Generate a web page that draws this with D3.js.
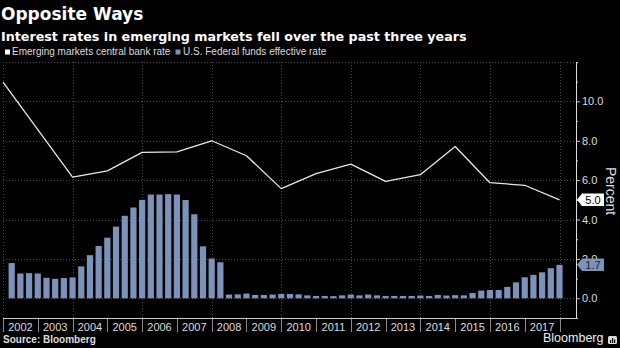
<!DOCTYPE html>
<html>
<head>
<meta charset="utf-8">
<script src="https://cdn.jsdelivr.net/npm/d3@7"></script>
<style>
  html, body { margin: 0; padding: 0; background: #000; }
  svg { display: block; }
</style>
</head>
<body>
<svg id="chart" width="620" height="348"></svg>
<script>
// ---------------- DATA ----------------
const titleText = "Opposite Ways";
const subtitleText = "Interest rates in emerging markets fell over the past three years";
const seriesNames = ["Emerging markets central bank rate", "U.S. Federal funds effective rate"];

// Emerging markets central bank rate (points at start of year)
const emDates = [2002, 2004, 2005, 2006, 2007, 2008, 2009, 2010, 2011, 2012, 2013, 2014, 2015, 2016, 2017, 2018];
const emValues = [10.98, 6.15, 6.47, 7.41, 7.44, 8.0, 7.24, 5.57, 6.33, 6.81, 5.94, 6.28, 7.71, 5.87, 5.74, 5.0];

// U.S. Federal funds effective rate, quarterly
const fedQuarters = [];
for (let yr = 2002; yr <= 2017; yr++) for (let q = 1; q <= 4; q++) fedQuarters.push(yr + " Q" + q);
const fedValues = [
  1.79, 1.26, 1.28, 1.26,
  1.04, 0.99, 1.03, 1.06,
  1.62, 2.19, 2.66, 3.08,
  3.64, 4.19, 4.61, 5.00,
  5.27, 5.27, 5.29, 5.27,
  4.99, 4.27, 2.64, 2.02,
  1.83, 0.19, 0.20, 0.24,
  0.17, 0.17, 0.19, 0.22,
  0.22, 0.20, 0.15, 0.12,
  0.12, 0.11, 0.15, 0.19,
  0.15, 0.19, 0.15, 0.12,
  0.12, 0.12, 0.12, 0.14,
  0.12, 0.17, 0.14, 0.16,
  0.15, 0.27, 0.39, 0.42,
  0.42, 0.58, 0.81, 1.07,
  1.19, 1.32, 1.53, 1.70
];

const yearLabels = ["2002","2003","2004","2005","2006","2007","2008","2009","2010","2011","2012","2013","2014","2015","2016","2017"];
const yTickValues = [0, 2, 4, 6, 8, 10];
const yMinorTicks = [-1, 1, 3, 5, 7, 9, 11, 12];
const gridYears = [2002, 2004, 2006, 2008, 2010, 2012, 2014, 2016, 2018];
const gridValues = [0, 2, 4, 6, 8, 10, 12];
const sourceText = "Source: Bloomberg";
const axisTitle = "Percent";

// ---------------- LAYOUT ----------------
const svg = d3.select("#chart");
const plotLeft = 3, plotRight = 576, plotTop = 62, plotBottom = 318;
const BLUE = "#7b93ba";
const FONT = "'Liberation Sans', Arial, sans-serif";

const x = d3.scaleLinear().domain([2002, 2018]).range([plotLeft, 559.5]);
const y = d3.scaleLinear().domain([-1, 12]).range([plotBottom, plotTop]);

svg.append("rect").attr("width", 620).attr("height", 348).attr("fill", "#000");

// Title & subtitle
svg.append("text").attr("x", 1).attr("y", 20)
  .attr("fill", "#fff").attr("font-family", "'DejaVu Sans', sans-serif")
  .attr("font-weight", "bold").attr("font-size", 17).text(titleText);
svg.append("text").attr("x", 1).attr("y", 40.5)
  .attr("fill", "#fff").attr("font-family", "'DejaVu Sans', sans-serif")
  .attr("font-weight", "bold").attr("font-size", 12.7).text(subtitleText);

// Legend
const legend = svg.append("g").attr("font-family", FONT).attr("font-size", 10).attr("fill", "#ddd");
legend.append("rect").attr("x", 5).attr("y", 49.5).attr("width", 5).attr("height", 5).attr("fill", "#fff");
legend.append("text").attr("x", 12).attr("y", 55).text(seriesNames[0]);
legend.append("rect").attr("x", 175.5).attr("y", 49.5).attr("width", 5).attr("height", 5).attr("fill", BLUE);
legend.append("text").attr("x", 183).attr("y", 55).text(seriesNames[1]);

// Gridlines
const grid = svg.append("g").attr("stroke", "#4a4a4a").attr("stroke-width", 1).attr("stroke-dasharray", "1,2");
grid.selectAll("line.gy").data(gridValues).join("line")
  .attr("x1", plotLeft).attr("x2", plotRight)
  .attr("y1", d => Math.round(y(d)) + 0.5).attr("y2", d => Math.round(y(d)) + 0.5);
grid.selectAll("line.gx").data(gridYears).join("line")
  .attr("x1", d => Math.round(x(d)) + 0.5).attr("x2", d => Math.round(x(d)) + 0.5)
  .attr("y1", plotTop).attr("y2", plotBottom);

// Bars
const barW = 6.2;
const qPos = s => { const [yr, q] = s.split(" Q"); return +yr + (+q) / 4; };
svg.append("g").selectAll("rect").data(fedValues).join("rect")
  .attr("x", (d, i) => x(qPos(fedQuarters[i])) - barW / 2)
  .attr("width", barW)
  .attr("y", d => y(d))
  .attr("height", d => y(0) - y(d))
  .attr("fill", BLUE);

// Line
const line = d3.line().x((d, i) => x(emDates[i])).y(d => y(d));
svg.append("path").datum(emValues).attr("d", line)
  .attr("fill", "none").attr("stroke", "#e8e8e8").attr("stroke-width", 1.3)
  .attr("stroke-linejoin", "round");

// Right axis
const yAxis = d3.axisRight(y).tickValues(yTickValues).tickSize(4).tickPadding(2)
  .tickFormat(d3.format(".1f"));
const ax = svg.append("g").attr("transform", `translate(${plotRight},0)`).call(yAxis);
ax.select(".domain").remove();
ax.selectAll("line").attr("stroke", "#ccc");
ax.selectAll("text").attr("fill", "#ddd").attr("font-family", FONT).attr("font-size", 11);
const axMinor = d3.axisRight(y).tickValues(yMinorTicks).tickSize(2).tickFormat("");
const axm = svg.append("g").attr("transform", `translate(${plotRight},0)`).call(axMinor);
axm.select(".domain").remove();
axm.selectAll("line").attr("stroke", "#ccc");
svg.append("line").attr("x1", plotRight + 0.5).attr("x2", plotRight + 0.5)
  .attr("y1", plotTop).attr("y2", plotBottom).attr("stroke", "#ddd");

// Bottom axis
svg.append("line").attr("x1", plotLeft).attr("x2", plotRight + 1)
  .attr("y1", plotBottom + 0.5).attr("y2", plotBottom + 0.5).attr("stroke", "#ccc");
const xb = svg.append("g");
xb.selectAll("line").data(d3.range(2002, 2019)).join("line")
  .attr("x1", d => Math.round(x(d)) + 0.5).attr("x2", d => Math.round(x(d)) + 0.5)
  .attr("y1", plotBottom + 1).attr("y2", 332).attr("stroke", "#8a8a8a");
xb.selectAll("text").data(yearLabels).join("text")
  .attr("x", d => x(+d + 0.5)).attr("y", 331)
  .attr("text-anchor", "middle").attr("fill", "#ddd")
  .attr("font-family", FONT).attr("font-size", 11).text(d => d);

// Axis title
svg.append("text").attr("transform", `translate(606,191) rotate(90)`)
  .attr("text-anchor", "middle").attr("fill", "#ddd")
  .attr("font-family", FONT).attr("font-size", 14).text(axisTitle);

// Value callouts
function callout(val, fill, textFill) {
  const cy = y(val);
  const g = svg.append("g");
  const x0 = plotRight + 1, w = 27, h = 12.5;
  g.append("path")
    .attr("d", `M${x0},${cy} L${x0 + 5},${cy - h / 2} L${x0 + w},${cy - h / 2} L${x0 + w},${cy + h / 2} L${x0 + 5},${cy + h / 2} Z`)
    .attr("fill", fill);
  g.append("text").attr("x", x0 + 16).attr("y", cy + 4)
    .attr("text-anchor", "middle").attr("fill", textFill)
    .attr("font-family", FONT).attr("font-size", 11).text(d3.format(".1f")(val));
}
callout(emValues[emValues.length - 1], "#fff", "#000");
callout(fedValues[fedValues.length - 1], BLUE, "#222");

// Footer
svg.append("text").attr("x", 3).attr("y", 343)
  .attr("fill", "#ddd").attr("font-family", FONT).attr("font-weight", "bold")
  .attr("font-size", 10).text(sourceText);
svg.append("text").attr("x", 543).attr("y", 342)
  .attr("fill", "#eee").attr("font-family", FONT)
  .attr("font-size", 12.5).text("Bloomberg");
const logo = svg.append("g").attr("transform", "translate(608,336)");
logo.append("rect").attr("width", 9).attr("height", 8).attr("rx", 1.5).attr("fill", "#ddd");
logo.append("rect").attr("x", 2).attr("y", 4).attr("width", 1.2).attr("height", 3).attr("fill", "#000");
logo.append("rect").attr("x", 4).attr("y", 2).attr("width", 1.2).attr("height", 5).attr("fill", "#000");
logo.append("rect").attr("x", 6).attr("y", 3.5).attr("width", 1.2).attr("height", 3.5).attr("fill", "#000");
</script>
</body>
</html>
